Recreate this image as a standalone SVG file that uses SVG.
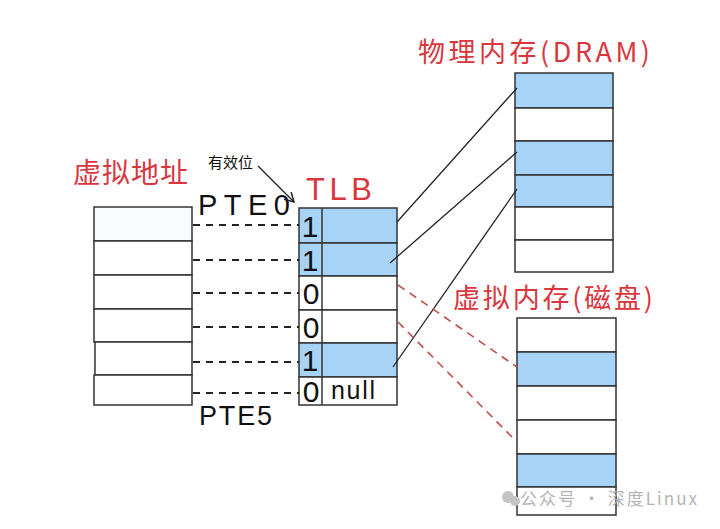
<svg xmlns="http://www.w3.org/2000/svg" width="720" height="529" viewBox="0 0 720 529">
<style>
.cell{stroke:#333;stroke-width:1.5;fill:#fff}
.blue{fill:#a6d3f6}
.red{fill:#d9363e;font-family:"Noto Sans CJK SC",sans-serif}
.hand{font-family:"Liberation Sans",sans-serif;fill:#111}
.cjk{font-family:"Noto Sans CJK SC",sans-serif;fill:#111}
.dash{stroke:#222;stroke-width:2;stroke-dasharray:7,6;fill:none}
.rdash{stroke:#c0504d;stroke-width:1.6;stroke-dasharray:8,6;fill:none}
.link{stroke:#222;stroke-width:1.3;fill:none}
.wm{fill:#b4b4b4;font-family:"Noto Sans CJK SC",sans-serif;font-size:17px}
</style>
<defs>
<marker id="arr" markerWidth="12" markerHeight="12" refX="10" refY="6" orient="auto" markerUnits="userSpaceOnUse">
<path d="M1,1 L10,6 L1,11" fill="none" stroke="#222" stroke-width="1.5"/>
</marker>
</defs>
<rect width="720" height="529" fill="#fff"/>

<g id="virtual-address">
<text class="red" x="73" y="183" font-size="28" textLength="115">虚拟地址</text>
<rect class="cell" x="94" y="207" width="98" height="34" style="fill:#f9fcfe"/>
<rect class="cell" x="94" y="241" width="98" height="34"/>
<rect class="cell" x="94" y="275" width="98" height="34"/>
<rect class="cell" x="94" y="309" width="98" height="33"/>
<rect class="cell" x="95" y="342" width="97" height="33"/>
<rect class="cell" x="94" y="375" width="98" height="30"/>
<text class="hand" x="198" y="215" font-size="29" textLength="92">PTE0</text>
<text class="hand" x="199" y="425" font-size="27" textLength="73">PTE5</text>
</g>

<g id="valid-bit-label">
<text class="cjk" x="208" y="168" font-size="15">有效位</text>
</g>

<g id="tlb">
<text x="306" y="200" font-size="31" textLength="66" style="fill:#d9363e;font-family:'Liberation Sans',sans-serif">TLB</text>
<rect class="cell blue" x="299" y="208" width="98" height="35"/>
<rect class="cell blue" x="299" y="243" width="98" height="33"/>
<rect class="cell" x="299" y="276" width="98" height="34"/>
<rect class="cell" x="299" y="310" width="98" height="33"/>
<rect class="cell blue" x="299" y="343" width="98" height="34"/>
<rect class="cell" x="299" y="377" width="98" height="28"/>
<line x1="322" y1="208" x2="322" y2="405" stroke="#333" stroke-width="1.5"/>
<g class="hand" font-size="30" text-anchor="middle">
<text x="310" y="237">1</text>
<text x="310" y="271">1</text>
<text x="311" y="304">0</text>
<text x="311" y="338">0</text>
<text x="310" y="371">1</text>
<text x="311" y="402">0</text>
</g>
<text class="hand" x="331" y="399" font-size="25" textLength="44">null</text>
</g>

<g id="dram">
<text class="red" x="418" y="62" font-size="27" textLength="232">物理内存(DRAM)</text>
<rect class="cell blue" x="515" y="73" width="98" height="35"/>
<rect class="cell" x="515" y="108" width="98" height="33"/>
<rect class="cell blue" x="515" y="141" width="98" height="34"/>
<rect class="cell blue" x="515" y="175" width="98" height="32"/>
<rect class="cell" x="515" y="207" width="98" height="33"/>
<rect class="cell" x="515" y="240" width="98" height="32"/>
</g>

<g id="disk">
<text class="red" x="453" y="308" font-size="27" textLength="200">虚拟内存(磁盘)</text>
<rect class="cell" x="517" y="318" width="99" height="34"/>
<rect class="cell blue" x="517" y="352" width="99" height="34"/>
<rect class="cell" x="517" y="386" width="99" height="34"/>
<rect class="cell" x="517" y="420" width="99" height="34"/>
<rect class="cell blue" x="517" y="454" width="99" height="33"/>
<rect class="cell" x="517" y="487" width="99" height="28"/>
</g>

<g id="connectors">
<line class="link" x1="258" y1="166" x2="294" y2="202" marker-end="url(#arr)"/>
<line class="dash" x1="193" y1="225" x2="299" y2="225"/>
<line class="dash" x1="193" y1="260" x2="299" y2="260"/>
<line class="dash" x1="193" y1="293" x2="299" y2="293"/>
<line class="dash" x1="193" y1="327" x2="299" y2="327"/>
<line class="dash" x1="193" y1="362" x2="299" y2="362"/>
<line class="dash" x1="193" y1="393" x2="299" y2="393"/>
<line class="link" x1="397" y1="222" x2="517" y2="88"/>
<line class="link" x1="390" y1="263" x2="517" y2="152"/>
<line class="link" x1="393" y1="367" x2="517" y2="189"/>
<line class="rdash" x1="398" y1="285" x2="517" y2="367"/>
<line class="rdash" x1="398" y1="322" x2="515" y2="440"/>
</g>

<g id="watermark">
<circle cx="508" cy="497" r="6" fill="#c4c4c4"/>
<circle cx="515" cy="501" r="5" fill="#c4c4c4"/>
<text class="wm" x="520" y="505" textLength="177">公众号 · 深度Linux</text>
</g>
</svg>
